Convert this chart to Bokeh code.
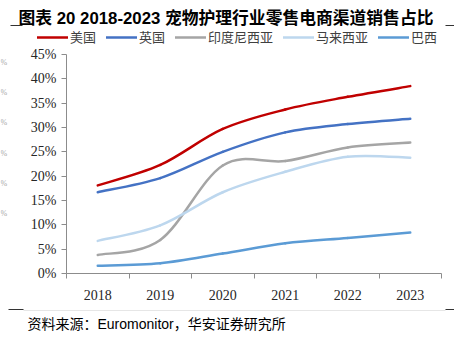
from bokeh.plotting import figure
from bokeh.models import FixedTicker, Range1d, Legend, LegendItem, Label, BoxAnnotation
from bokeh.embed import file_html
from bokeh.resources import INLINE

years = ["2018", "2019", "2020", "2021", "2022", "2023"]
us = [18.1, 22.3, 29.7, 33.7, 36.3, 38.5]
uk = [16.7, 19.6, 25.0, 29.0, 30.7, 31.8]
indonesia = [3.8, 6.9, 22.2, 23.1, 25.9, 26.9]
malaysia = [6.7, 9.9, 16.7, 20.9, 24.0, 23.8]
brazil = [1.6, 2.1, 4.1, 6.2, 7.3, 8.4]
series_names = ["美国", "英国", "印度尼西亚", "马来西亚", "巴西"]
series_colors = ["#C00000", "#4472C4", "#A5A5A5", "#BDD7EE", "#5B9BD5"]
y_ticks = [0, 5, 10, 15, 20, 25, 30, 35, 40, 45]
y_tick_labels = ["0%", "5%", "10%", "15%", "20%", "25%", "30%", "35%", "40%", "45%"]
title_text = "图表 20 2018-2023 宠物护理行业零售电商渠道销售占比"
source_text = "资料来源：Euromonitor，华安证券研究所"

SERIF = "Liberation Serif"
CJK = "Noto Sans CJK SC"
MIX = "Liberation Sans, Noto Sans CJK SC"
W, H = 454, 346
# plot area in canvas pixels
PL, PR, PT, PB = 66, 441, 54, 273
n = len(years)
ymax = y_ticks[-1]
ux = (PR - PL) / n
uy = (PB - PT) / ymax

p = figure(width=W, height=H, output_backend="svg", toolbar_location=None,
           x_range=Range1d(-PL / ux, n + (W - PR) / ux),
           y_range=Range1d(-(H - PB) / uy, ymax + PT / uy),
           min_border=0, min_border_left=0, min_border_right=0,
           min_border_top=0, min_border_bottom=0)
p.outline_line_color = None
p.xgrid.visible = False
p.ygrid.visible = False

ya = p.yaxis[0]
ya.fixed_location = 0
ya.bounds = (0, ymax)
ya.ticker = FixedTicker(ticks=y_ticks, minor_ticks=[])
ya.major_label_overrides = {t: l for t, l in zip(y_ticks, y_tick_labels)}
ya.axis_line_color = "#8C8C8C"
ya.major_tick_line_color = "#8C8C8C"
ya.major_tick_in = 0
ya.major_tick_out = 5
ya.minor_tick_out = 0
ya.minor_tick_in = 0
ya.major_label_standoff = 5
ya.major_label_text_font = SERIF
ya.major_label_text_font_size = "14px"
ya.major_label_text_color = "#262626"

centers = [i + 0.5 for i in range(n)]
xa = p.xaxis[0]
xa.fixed_location = 0
xa.bounds = (0, n)
xa.ticker = FixedTicker(ticks=centers, minor_ticks=list(range(n + 1)))
xa.major_label_overrides = {c: y for c, y in zip(centers, years)}
xa.axis_line_color = "#8C8C8C"
xa.major_tick_in = 0
xa.major_tick_out = 0
xa.minor_tick_in = 0
xa.minor_tick_out = 5
xa.minor_tick_line_color = "#8C8C8C"
xa.major_label_standoff = 11
xa.major_label_text_font = SERIF
xa.major_label_text_font_size = "14px"
xa.major_label_text_color = "#262626"


def smooth_segments(vals):
    m = len(vals)
    xs = centers
    d = dict(x0=[], y0=[], x1=[], y1=[], cx0=[], cy0=[], cx1=[], cy1=[])
    for i in range(m - 1):
        pm = i - 1 if i > 0 else i
        pp = i + 2 if i + 2 < m else i + 1
        d["x0"].append(xs[i]); d["y0"].append(vals[i])
        d["x1"].append(xs[i + 1]); d["y1"].append(vals[i + 1])
        d["cx0"].append(xs[i] + (xs[i + 1] - xs[pm]) / 6)
        d["cy0"].append(vals[i] + (vals[i + 1] - vals[pm]) / 6)
        d["cx1"].append(xs[i + 1] - (xs[pp] - xs[i]) / 6)
        d["cy1"].append(vals[i + 1] - (vals[pp] - vals[i]) / 6)
    return d


items = []
for vals, name, color in zip([us, uk, indonesia, malaysia, brazil], series_names, series_colors):
    r = p.bezier(line_color=color, line_width=2.5, line_cap="round", **smooth_segments(vals))
    items.append(LegendItem(label=name, renderers=[r], index=0))

legend = Legend(items=items, orientation="horizontal", location=(37, H - 46),
                glyph_width=31, glyph_height=14, label_height=14, label_standoff=2,
                spacing=10, padding=0, margin=0, border_line_alpha=0,
                background_fill_alpha=0, label_text_font=CJK,
                label_text_font_size="13px", label_text_color="#404040")
p.add_layout(legend, "center")

p.add_layout(Label(x=18, y=H - 18, x_units="screen", y_units="screen", text=title_text,
                   text_font=MIX, text_font_style="bold", text_font_size="16.8px",
                   text_color="black", text_baseline="middle"))
p.add_layout(Label(x=27, y=H - 323, x_units="screen", y_units="screen", text=source_text,
                   text_font=MIX, text_font_size="14px", text_color="black",
                   text_baseline="middle"))


def hrule(x0, x1, y, color):
    p.add_layout(BoxAnnotation(left=x0, right=x1, top=H - y + 0.5, bottom=H - y - 0.5,
                               left_units="screen", right_units="screen",
                               top_units="screen", bottom_units="screen",
                               fill_color=color, fill_alpha=1, line_alpha=0))


hrule(23, 445, 310, "#E6E6E6")
for x0, x1, y in [(10, 22, 25), (445, 454, 25), (8, 23, 309), (445, 454, 309)]:
    hrule(x0, x1, y, "#333333")

# faint percent marks at the left edge of the reference
for yy in [62, 92, 122, 153, 183, 213]:
    p.add_layout(Label(x=0, y=H - yy, x_units="screen", y_units="screen", text="%",
                       text_font=SERIF, text_font_size="8px", text_color="#A6A6A6",
                       text_baseline="middle"))

open("out.html", "w").write(file_html(p, INLINE))
